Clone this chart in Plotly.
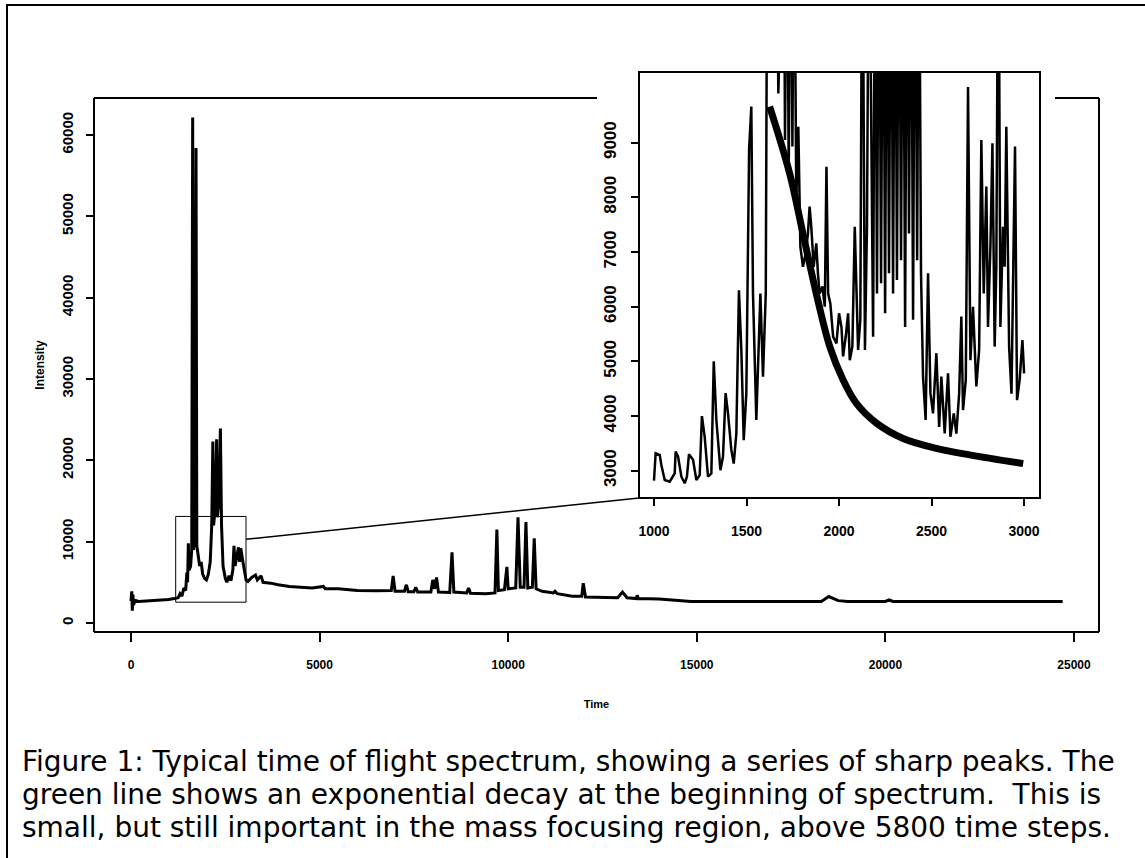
import plotly.graph_objects as go

W, H = 1145, 858

# ---------------- data ----------------
main_time = [0, 20, 35, 50, 70, 100, 200, 400, 600, 800, 1000, 1150, 1250, 1300, 1350, 1400,
             1450, 1480, 1500, 1520, 1540, 1580, 1610, 1635, 1660, 1700, 1724, 1745, 1780,
             1820, 1860, 1900, 1950, 2000, 2050, 2100, 2140, 2170, 2190, 2230, 2270, 2290,
             2330, 2370, 2400, 2440, 2500, 2540, 2600, 2650, 2700, 2730, 2760, 2800, 2850,
             2880, 2910, 2950, 3000, 3050, 3100, 3200, 3300, 3350, 3450, 3500, 3700, 3900,
             4200, 4500, 4800, 5100, 5150, 5500, 6000, 6500, 6900, 6950, 7000, 7250, 7300,
             7350, 7500, 7550, 7600, 7950, 8000, 8050, 8100, 8150, 8450, 8510, 8560, 8900,
             8950, 9000, 9400, 9650, 9700, 9740, 9900, 9965, 10000, 10200, 10260, 10320,
             10420, 10470, 10520, 10640, 10690, 10740, 10900, 11200, 11240, 11300, 11700,
             11950, 11990, 12050, 12500, 12900, 13030, 13150, 13400, 13420, 13450, 14000,
             14850, 16000, 17000, 18300, 18500, 18750, 19000, 20000, 20100, 20200, 22000,
             24700]
main_intensity = [2700, 3900, 1500, 3500, 2200, 2800, 2650, 2700, 2750, 2800, 2900, 3000, 3100,
                  3600, 3300, 4300, 4000, 6200, 5000, 9800, 6500, 7000, 9000, 62150, 9000,
                  12000, 58400, 9500, 8000, 7000, 7500, 6000, 5500, 5300, 6000, 7500, 12000,
                  22300, 12000, 14000, 22600, 13000, 15000, 23900, 12000, 7000, 5500, 5000,
                  5800, 5200, 6500, 9500, 7000, 8000, 9300, 7500, 9200, 8000, 6500, 5300, 5100,
                  5600, 5900, 5300, 5800, 5000, 4900, 4700, 4500, 4400, 4300, 4500, 4200, 4200,
                  4000, 3950, 4000, 5800, 3900, 3900, 4700, 3850, 3850, 4400, 3800, 3800, 5300,
                  4200, 5600, 3800, 3750, 8700, 3800, 3700, 4300, 3650, 3600, 3700, 11500,
                  4000, 4100, 6900, 4200, 4300, 13000, 4400, 4400, 12400, 4300, 4400, 10400,
                  4200, 3900, 3700, 3900, 3600, 3300, 3300, 4900, 3200, 3100, 3100, 3800, 3100,
                  3000, 3400, 3000, 2950, 2650, 2650, 2650, 2650, 3250, 2750, 2650, 2650, 2850,
                  2650, 2650, 2650]

inset_time = [1000, 1009, 1031, 1040, 1058, 1085, 1112, 1117, 1130, 1148, 1166, 1178, 1189,
              1211, 1229, 1247, 1259, 1274, 1292, 1310, 1323, 1337, 1359, 1373, 1387, 1400,
              1418, 1431, 1445, 1459, 1472, 1485, 1499, 1514, 1526, 1535, 1553, 1562, 1575,
              1589, 1604, 1613, 1661, 1672, 1683, 1701, 1708, 1719, 1728, 1739, 1748, 1757,
              1769, 1780, 1791, 1805, 1820, 1832, 1841, 1850, 1863, 1877, 1886, 1895, 1910,
              1923, 1932, 1941, 1953, 1968, 1986, 2000, 2013, 2022, 2036, 2049, 2058, 2072,
              2085, 2094, 2103, 2115, 2126, 2140, 2151, 2162, 2175, 2184, 2195, 2205, 2216,
              2227, 2238, 2249, 2259, 2270, 2281, 2292, 2303, 2313, 2324, 2335, 2346, 2357,
              2368, 2378, 2389, 2400, 2411, 2422, 2432, 2443, 2454, 2468, 2481, 2494, 2508,
              2526, 2541, 2553, 2571, 2589, 2602, 2620, 2634, 2649, 2661, 2670, 2685, 2697,
              2710, 2724, 2742, 2757, 2769, 2782, 2796, 2805, 2818, 2829, 2841, 2850, 2861,
              2872, 2886, 2895, 2904, 2919, 2932, 2941, 2951, 2962, 2976, 2991, 3000]
inset_intensity = [2820, 3320, 3290, 3100, 2830, 2800, 2950, 3350, 3260, 2890, 2770, 2890, 3300,
                   3200, 2830, 2920, 4000, 3620, 2890, 2950, 5000, 3930, 3010, 3260, 4420, 4050,
                   3380, 3130, 3680, 6300, 5210, 3560, 4420, 8870, 9660, 6240, 3930, 5020, 6240,
                   4720, 6240, 14000, 14000, 9900, 14000, 14000, 9050, 14000, 8380, 14000, 8930,
                   14000, 7950, 9290, 7100, 6730, 6980, 7340, 7830, 7460, 6730, 7160, 6610, 6240,
                   6370, 6000, 8560, 6240, 6060, 5450, 5330, 5880, 5630, 5090, 5450, 5880, 5020,
                   5270, 7460, 6240, 5210, 5760, 14000, 5210, 7460, 14000, 9410, 5450, 14000,
                   6240, 14000, 6430, 14000, 5880, 14000, 6610, 14000, 6240, 14000, 6490, 14000,
                   6850, 14000, 5630, 14000, 7340, 14000, 5760, 14000, 6850, 14000, 6610, 4720,
                   3930, 6610, 4410, 4050, 5150, 3800, 4720, 3680, 4780, 3620, 4050, 3680, 4410,
                   5820, 4110, 4660, 10020, 5020, 6000, 4540, 5210, 9050, 6240, 8200, 5630, 7100,
                   8990, 5270, 6730, 14000, 5630, 7460, 6730, 9290, 5270, 4410, 6610, 8930, 4290,
                   4660, 5390, 4780]

decay_time = [1625, 1733, 1805, 1877, 1950, 2022, 2094, 2202, 2346, 2526, 2706, 2995]
decay_intensity = [9660, 8440, 7340, 6240, 5270, 4660, 4230, 3870, 3590, 3410, 3290, 3130]

main_xticks = [0, 5000, 10000, 15000, 20000, 25000]
main_yticks = [0, 10000, 20000, 30000, 40000, 50000, 60000]
inset_xticks = [1000, 1500, 2000, 2500, 3000]
inset_yticks = [3000, 4000, 5000, 6000, 7000, 8000, 9000]

zoom_box_time = [1185, 3049]
zoom_box_intensity = [2560, 13100]
link_start_intensity = 10300

caption_lines = [
    "Figure 1: Typical time of flight spectrum, showing a series of sharp peaks. The",
    "green line shows an exponential decay at the beginning of spectrum.  This is",
    "small, but still important in the mass focusing region, above 5800 time steps.",
]

# ---------------- layout geometry (pixels) ----------------
def px(x):
    return x / W


def py(y):
    return 1 - y / H


main_box = dict(l=94, r=1099, t=98, b=632)
inset_box = dict(l=639, r=1040, t=72, b=498)
main_xrange = [-981, 25663]
main_yrange = [-1107, 64550]
inset_xrange = [919, 3086]
inset_yrange = [2501, 10293]

AX_FONT = "Liberation Sans, Arial"


def labels(vals):
    return [str(v) for v in vals]


fig = go.Figure()
fig.add_trace(go.Scatter(x=main_time, y=main_intensity, mode="lines",
                         line=dict(color="black", width=3), xaxis="x", yaxis="y",
                         hoverinfo="skip"))
fig.add_trace(go.Scatter(x=inset_time, y=inset_intensity, mode="lines",
                         line=dict(color="black", width=2.5), xaxis="x2", yaxis="y2",
                         hoverinfo="skip"))
fig.add_trace(go.Scatter(x=decay_time, y=decay_intensity, mode="lines",
                         line=dict(color="black", width=7, shape="spline"),
                         xaxis="x2", yaxis="y2", hoverinfo="skip"))

common = dict(showgrid=False, zeroline=False, showline=False, ticks="outside",
              tickcolor="black", tickwidth=1.5, color="black")

fig.update_layout(
    width=W, height=H, margin=dict(l=0, r=0, t=0, b=0),
    paper_bgcolor="white", plot_bgcolor="rgba(0,0,0,0)", showlegend=False,
    xaxis=dict(domain=[px(main_box["l"]), px(main_box["r"])], range=main_xrange,
               tickvals=main_xticks, ticktext=labels(main_xticks), ticklen=9,
               ticklabelstandoff=13,
               tickfont=dict(family=AX_FONT, size=12, weight="bold"),
               title=dict(text="Time", font=dict(family=AX_FONT, size=11, weight="bold"),
                          standoff=28),
               anchor="y", **common),
    yaxis=dict(domain=[py(main_box["b"]), py(main_box["t"])], range=main_yrange,
               tickvals=main_yticks, ticktext=labels(main_yticks), ticklen=7, tickangle=-90,
               ticklabelstandoff=7,
               tickfont=dict(family=AX_FONT, size=15, weight="bold"),
               title=dict(text="Intensity", font=dict(family=AX_FONT, size=12, weight="bold"),
                          standoff=11),
               anchor="x", **common),
    xaxis2=dict(domain=[px(inset_box["l"]), px(inset_box["r"])], range=inset_xrange,
                tickvals=inset_xticks, ticktext=labels(inset_xticks), ticklen=7,
                ticklabelstandoff=13,
                tickfont=dict(family=AX_FONT, size=14, weight="bold"),
                anchor="y2", **common),
    yaxis2=dict(domain=[py(inset_box["b"]), py(inset_box["t"])], range=inset_yrange,
                tickvals=inset_yticks, ticktext=labels(inset_yticks), ticklen=7,
                tickangle=-90, ticklabelstandoff=8,
                tickfont=dict(family=AX_FONT, size=17, weight="bold"),
                anchor="x2", **common),
)

shapes = []
line_k = dict(color="black", width=2)
# outer frame
shapes.append(dict(type="rect", xref="paper", yref="paper", x0=px(7), x1=px(1160),
                   y0=py(880), y1=py(5), line=line_k))
# main box (top edge interrupted by the inset)
mb = main_box
for (x0, y0, x1, y1) in [(mb["l"], mb["t"], mb["l"], mb["b"]), (mb["l"], mb["b"], mb["r"], mb["b"]),
                         (mb["r"], mb["b"], mb["r"], mb["t"]), (mb["l"], mb["t"], 597, mb["t"]),
                         (1055, mb["t"], mb["r"], mb["t"])]:
    shapes.append(dict(type="line", xref="paper", yref="paper", x0=px(x0), y0=py(y0),
                       x1=px(x1), y1=py(y1), line=line_k))
# inset box
shapes.append(dict(type="rect", xref="x2 domain", yref="y2 domain", x0=0, x1=1, y0=0, y1=1,
                   line=line_k))
# zoom rectangle on the main axes
shapes.append(dict(type="rect", xref="x", yref="y", x0=zoom_box_time[0], x1=zoom_box_time[1],
                   y0=zoom_box_intensity[0], y1=zoom_box_intensity[1],
                   line=dict(color="black", width=1)))


def data_to_paper(v, rng, dom):
    return dom[0] + (v - rng[0]) / (rng[1] - rng[0]) * (dom[1] - dom[0])


mx_dom = [px(main_box["l"]), px(main_box["r"])]
my_dom = [py(main_box["b"]), py(main_box["t"])]
ix_dom = [px(inset_box["l"]), px(inset_box["r"])]
iy_dom = [py(inset_box["b"]), py(inset_box["t"])]
shapes.append(dict(type="line", xref="paper", yref="paper",
                   x0=data_to_paper(zoom_box_time[1], main_xrange, mx_dom),
                   y0=data_to_paper(link_start_intensity, main_yrange, my_dom),
                   x1=data_to_paper(inset_xrange[0], inset_xrange, ix_dom),
                   y1=data_to_paper(inset_yrange[0], inset_yrange, iy_dom),
                   line=dict(color="black", width=1.5)))
fig.update_layout(shapes=shapes)

CAP_SIZE = 28
for i, txt in enumerate(caption_lines):
    baseline = 772 + 33 * i
    fig.add_annotation(text=txt, xref="paper", yref="paper", x=px(20),
                       y=py(baseline - 0.36 * CAP_SIZE), xanchor="left", yanchor="middle",
                       showarrow=False, align="left",
                       font=dict(family="DejaVu Sans, Liberation Sans, Arial", size=CAP_SIZE,
                                 color="black"))

fig.write_html("out.html")
